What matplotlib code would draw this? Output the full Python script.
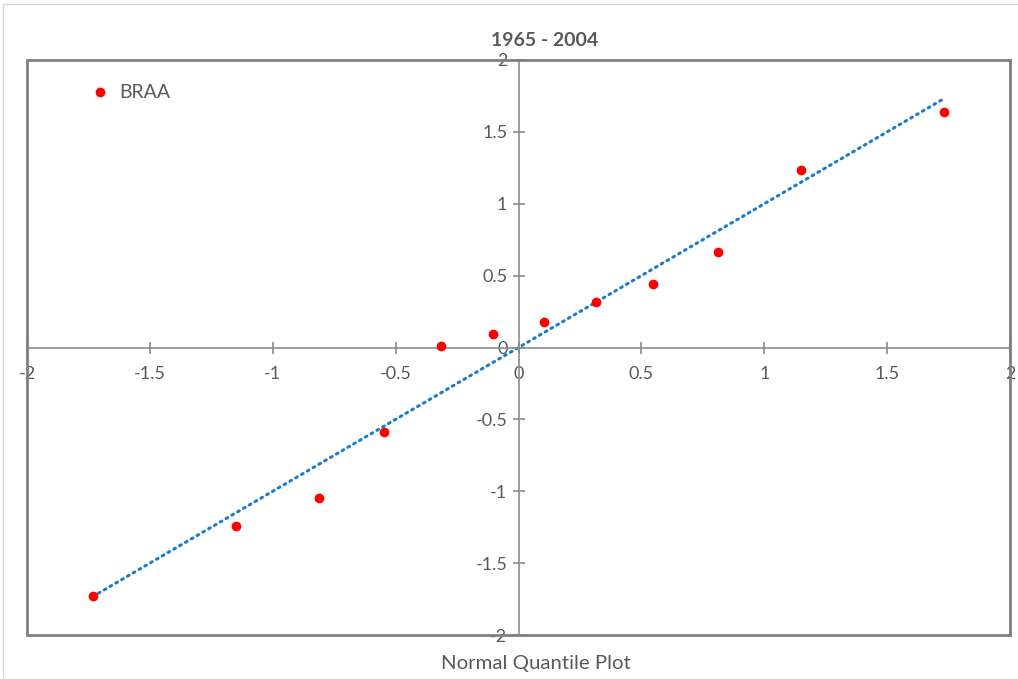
import matplotlib
matplotlib.use('Agg')
import matplotlib.pyplot as plt
from matplotlib.patches import Rectangle

# 正态分位数 (x) 与标准化数据 (y)
quantiles = [-1.733, -1.150, -0.812, -0.549, -0.317, -0.105,
             0.105, 0.317, 0.549, 0.812, 1.150, 1.733]
braa = [-1.732, -1.245, -1.050, -0.591, 0.007, 0.097,
        0.174, 0.320, 0.445, 0.661, 1.238, 1.635]
# 参考线 y = x
ref_x = [-1.733, 1.725]
ref_y = [-1.733, 1.725]

ticks = [-2, -1.5, -1, -0.5, 0, 0.5, 1, 1.5, 2]
tick_labels = ['-2', '-1.5', '-1', '-0.5', '0', '0.5', '1', '1.5', '2']

plt.rcParams['font.family'] = ['Lato', 'DejaVu Sans']
gray = '#595959'
axis_gray = '#8c8c8c'

fig = plt.figure(figsize=(10.18, 6.79), dpi=100)
ax = fig.add_axes([27 / 1018, 1 - 635 / 679, 983 / 1018, 575 / 679])

ax.plot(ref_x, ref_y, linestyle=(0, (0.6, 1.6)), color='#1a7bd0',
        linewidth=2.2, dash_capstyle='round', zorder=2)
ax.plot(quantiles, braa, 'o', color='#ff0000', markersize=6,
        label='BRAA', zorder=3)

ax.set_xlim(-2, 2)
ax.set_ylim(-2, 2)

# 坐标轴穿过原点
ax.spines['left'].set_position('zero')
ax.spines['bottom'].set_position('zero')
for side in ['left', 'bottom']:
    ax.spines[side].set_color(axis_gray)
    ax.spines[side].set_linewidth(1.2)
for side in ['top', 'right']:
    ax.spines[side].set_visible(False)
ax.add_patch(Rectangle((0, 0), 1, 1, transform=ax.transAxes, fill=False,
                       edgecolor='#7f7f7f', linewidth=2, clip_on=False, zorder=5))

ax.set_xticks(ticks)
ax.set_xticklabels(tick_labels)
ax.set_yticks(ticks)
ax.set_yticklabels(tick_labels)
ax.tick_params(axis='both', direction='inout', length=8, width=1.2,
               color=axis_gray, labelcolor=gray, labelsize=13)
ax.tick_params(axis='x', pad=9)
ax.tick_params(axis='y', pad=4)

leg = ax.legend(loc='upper left', bbox_to_anchor=(0.054, 0.971),
                frameon=False, fontsize=14, handletextpad=0.4,
                borderaxespad=0, handlelength=1.2)
for t in leg.get_texts():
    t.set_color(gray)

fig.text(545 / 1018, 1 - 40 / 679, '1965 - 2004', ha='center', va='center',
         fontsize=14, fontweight='bold', color=gray)
fig.text(536 / 1018, 1 - 664 / 679, 'Normal Quantile Plot', ha='center',
         va='center', fontsize=14.7, color=gray)

# 图表外框
fig.patches.append(Rectangle((3 / 1018, 0), 1, 1 - 4 / 679,
                             transform=fig.transFigure, fill=False,
                             edgecolor='#d9d9d9', linewidth=1))

fig.savefig('out.png', dpi=100)
